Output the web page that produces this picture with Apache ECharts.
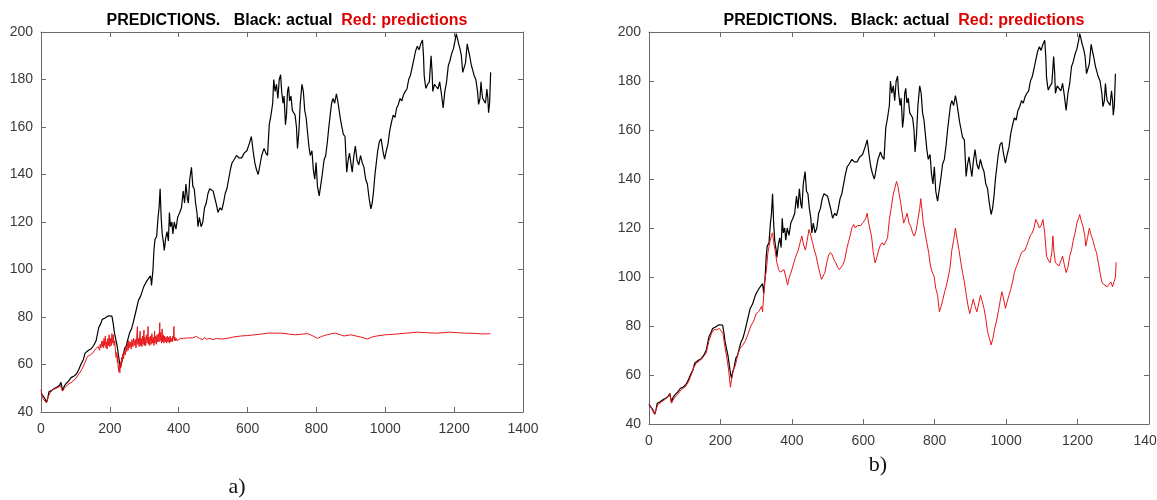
<!DOCTYPE html>
<html>
<head>
<meta charset="utf-8">
<title>PREDICTIONS</title>
<script src="https://cdn.jsdelivr.net/npm/echarts@6/dist/echarts.min.js"></script>
<style>
  html, body { margin: 0; padding: 0; background: #fff; }
  #chart { width: 1157px; height: 500px; }
</style>
</head>
<body>
<div id="chart"></div>
<script>
// Sample index vs. price: actual series (black) and two model predictions (red).
const xTicks = [0, 200, 400, 600, 800, 1000, 1200, 1400];
const yTicks = [40, 60, 80, 100, 120, 140, 160, 180, 200];

const actual = [
  [0,48],[5,47.5],[10,46],[16,44],[20,46],[23,48.5],[30,49],[40,50],[48,50.6],[55,51.5],[58,52.5],[63,49],[68,51],[73,52],[80,53],
  [88,54.6],[95,55],[103,56],[110,58],[118,60.7],[123,62],[128,64.8],[133,65.5],[138,66],[145,66.5],[153,68],[160,70],[168,75.7],
  [173,77],[178,79],[185,79.5],[190,79.7],[196,80.5],[201,81.3],[206,80.4],[210,77],[213,73.6],[218,70],[221,68],[226,62.8],[229,60],
  [231,58.7],[234,61],[238,62.8],[243,66.8],[248,68],[253,71],[258,73.6],[263,75],[268,77.7],[275,82],[283,87],[290,89],[298,92.6],
  [303,94],[308,95.3],[313,96],[318,97.3],[320,95],[321,93.3],[325,99.4],[328,108],[331,112.6],[336,114],[340,122],[343,126],[346,134],
  [349,122],[352,115],[356,111],[358,108],[362,113],[366,116],[370,112],[373,124],[376,118],[380,120],[383,115],[387,120],[392,117],
  [397,122],[403,124],[408,126],[413,133],[417,128],[421,136],[425,130],[428,128],[432,138],[437,143],[441,135],[445,134],[449,128],
  [453,124],[456,118],[460,122],[465,118],[470,120],[475,126],[480,128],[485,132],[490,134],[495,134],[500,133],[505,130],[510,127],
  [514,124],[520,126],[525,125],[530,128],[535,132],[540,134],[545,138],[550,142],[555,145],[560,146],[568,148],[575,147],[583,147],
  [590,149],[598,150],[605,153],[611,156],[616,150],[621,145],[626,142],[631,140],[636,144],[641,148],[648,151],[653,149],[658,148],
  [663,161],[668,165],[673,170],[676,180],[680,175],[684,178],[688,172],[692,180],[696,182],[699,175],[703,170],[706,173],[710,161],
  [713,165],[716,175],[719,177],[722,171],[726,173],[730,167],[734,166],[738,165],[742,160],[745,151],[749,158],[753,170],[758,178],
  [762,175],[766,167],[770,164],[774,158],[778,152],[782,148],[787,150],[791,142],[795,138],[799,145],[803,135],[808,131],[812,135],
  [817,140],[822,146],[827,148],[832,154],[836,160],[840,165],[844,170],[848,172],[853,170],[858,174],[862,171],[866,167],[870,163],
  [874,160],[878,157],[883,156],[888,141],[892,146],[896,149],[900,145],[904,141],[908,147],[913,152],[918,146],[923,144],[928,148],
  [933,145],[938,143],[943,138],[948,136],[953,130],[958,125.5],[962,128],[966,133],[970,140],[974,145],[978,150],[983,154],[988,155],
  [993,150],[998,146.5],[1003,150],[1008,153],[1013,158.6],[1018,162],[1023,165],[1028,164],[1033,168],[1038,169.5],[1043,172],
  [1048,171],[1053,173.6],[1058,175],[1063,176],[1068,180],[1073,181.7],[1078,185],[1083,188.5],[1088,192],[1093,194],[1098,192.5],
  [1103,195],[1108,196.6],[1111,190],[1113,181.7],[1116,178],[1118,176.3],[1123,178],[1128,179],[1133,190],[1136,183],[1138,175],
  [1143,178],[1148,177.6],[1153,176],[1158,179],[1163,174],[1168,168],[1173,175],[1178,179],[1183,185.8],[1188,188],[1193,191],
  [1198,193],[1203,196.6],[1206,199.3],[1210,197],[1213,195],[1217,193],[1221,190],[1225,183],[1229,185],[1233,187],[1238,195],
  [1242,192],[1245,190],[1250,186],[1253,185.8],[1258,181.7],[1263,180],[1268,175],[1271,169.5],[1275,172],[1278,179],[1281,174],
  [1283,172],[1287,171],[1291,170],[1295,176],[1298,172],[1300,166],[1303,170],[1306,183]
];

// Model (a): predictions flatten out around 70-74, noisy band up to ~400.
const predA = [
  [0,49.5],[3,47],[7,45.3],[16,44],[20,46],[26,48],[35,49.5],[45,50],[57,51],[62,48.8],[68,50],[78,51.6],[88,52.5],[99,53.7],
  [110,56],[119,58],[128,61],[135,63.4],[143,64],[150,64.8],[158,66.5],[166,67.6],[170,66],[172,68.5],[174,67],[176,69.7],[178,67.5],
  [180,70],[182,67],[183,71],[185,68],[187,72],[189,67],[190,69.5],[192,66.5],[194,71],[196,68],[198,72.5],[200,67.5],[202,71],
  [204,68],[206,73],[208,69],[210,72.5],[212,68],[214,70],[216,66.2],[218,63],[220,65],[222,60.6],[223,63.5],[224,59],[226,57],
  [227,60],[229,56.5],[231,61],[232,59],[234,63],[236,61],[238,64.5],[240,62.5],[242,66],[245,64],[247,67.5],[249,65.5],[251,69],
  [253,66],[255,70],[257,67],[259,69.5],[262,66.5],[264,70.5],[267,67.5],[269,71],[272,68],[274,70.5],[276,67],[278,71.5],[280,76],
  [281,68.5],[283,71],[285,67.5],[287,72],[288,74],[289,68],[291,71],[293,67.5],[295,72],[297,68.5],[299,74.5],[300,68],[302,71.5],
  [304,68],[306,72.5],[308,69],[310,72],[311,76],[312,68.5],[314,71.5],[316,68],[318,72],[320,68.5],[322,73],[324,69],[326,71.5],
  [328,68],[330,74],[331,69],[333,72],[335,68.5],[337,72.5],[339,69.5],[341,73],[343,69.5],[345,77.6],[346,70],[348,73.5],[350,69],
  [352,75],[353,69.5],[355,72.5],[357,69],[359,72],[361,69.5],[363,71.5],[365,69],[367,72],[369,69.5],[371,71.5],[373,69],[375,72],
  [377,69.5],[379,71],[381,69.5],[383,72],[385,71],[386,76],[387,70],[389,71.5],[391,70],[393,71],[395,70],[399,70.4],[405,71],
  [410,70.5],[415,71],[420,70.6],[425,71.2],[430,70.8],[440,71.2],[451,71.8],[460,71],[470,70.4],[475,71.5],[480,70.6],[490,71],
  [500,70.5],[510,71],[523,70.7],[540,71],[560,71.6],[580,72],[600,72.2],[620,72.5],[640,72.8],[658,73.2],[680,73.2],[700,73.2],
  [720,72.8],[740,72.5],[760,72.8],[775,73],[790,72],[803,71],[815,71.8],[830,72.5],[845,73],[855,73.2],[870,72.5],[880,72],
  [900,72.5],[915,72],[930,71.5],[948,70.7],[960,71.5],[975,72],[1000,72.5],[1030,72.8],[1060,73.2],[1093,73.6],[1120,73.4],
  [1150,73.2],[1187,73.6],[1210,73.4],[1230,73.2],[1260,73.1],[1280,72.9],[1300,72.9],[1305,73]
];

// Model (b): predictions track the trend but stay below the actual values.
const predB = [
  [0,48],[5,47],[10,45.5],[16,44],[20,46],[25,48],[35,49],[45,50],[55,51.5],[58,52.5],[63,48.5],[70,50.5],[80,52],[90,54],[100,55],
  [110,57],[118,60],[125,63],[133,65],[140,65.5],[150,67],[160,69],[168,74],[175,77],[182,78.5],[190,78.5],[197,79],[202,79.5],
  [207,77],[212,72],[218,67],[223,62],[228,55],[231,58],[236,62],[242,64],[248,68],[255,71],[262,72],[270,74],[278,77],[285,80],
  [293,82],[300,85],[308,86],[315,88],[318,85.8],[322,94],[325,100],[328,101.8],[333,110],[338,114],[343,117],[346,118],[350,113],
  [353,111],[358,106],[363,103],[368,102],[373,101.8],[378,103],[383,100],[388,96.7],[393,100],[398,102],[403,104.5],[410,108],
  [418,111],[423,114],[428,116.7],[433,113],[438,111],[443,115],[448,119.4],[453,117],[458,114],[463,111],[468,108.5],[473,105],
  [478,101.8],[483,99],[488,98.7],[493,102],[498,106],[503,109],[508,110],[513,109],[518,107],[523,105.8],[528,104],[533,103],
  [538,104],[543,105],[548,107],[553,111],[558,114],[563,116.7],[568,120],[573,121.4],[578,120],[583,121],[588,120.7],[593,121],
  [598,122],[603,123],[607,124],[611,126],[615,122],[618,120],[623,116.7],[628,110],[633,105.8],[638,108],[643,111],[648,113],
  [653,114],[658,113],[663,112.6],[668,116],[673,123.5],[678,128],[683,133],[688,136],[693,139],[697,137],[700,134.3],[705,130],
  [709,126],[713,122],[718,124],[723,126],[728,122],[733,120.7],[738,118],[743,116.7],[748,119],[753,123.5],[758,128],[761,132],
  [764,128],[768,122],[773,118],[778,114],[783,110],[788,104.5],[793,102],[798,100.4],[803,95.3],[808,92.6],[813,85.8],[818,88],
  [823,91],[828,94],[833,96.7],[838,100],[843,104],[848,111],[853,115],[858,120],[862,116],[868,111],[873,106],[878,101.8],[883,98],
  [888,93],[893,88.5],[898,85],[903,88],[908,91],[913,88],[918,85.8],[923,89],[928,92.6],[933,90],[938,87.2],[943,83],[948,77.7],
  [953,75],[958,72.3],[963,75],[968,79],[973,82],[978,85.8],[983,90],[988,94],[993,91],[998,87.2],[1003,90],[1008,92.6],[1013,95],
  [1018,98],[1023,101.8],[1028,104],[1033,105.8],[1038,108],[1043,110],[1048,110],[1053,111],[1058,113],[1063,115],[1068,117],
  [1073,118],[1078,120],[1083,123.5],[1088,122],[1093,120],[1098,121],[1103,123.5],[1108,118],[1113,108.5],[1118,107],[1123,105.8],
  [1128,110],[1131,116.7],[1134,110],[1138,105.8],[1143,105],[1148,104.5],[1153,105],[1158,108.5],[1163,105],[1168,101.8],[1173,104],
  [1178,108.5],[1183,111],[1188,115],[1193,118],[1198,122],[1203,124],[1206,125.5],[1210,123],[1215,120.7],[1220,117],[1223,112.6],
  [1228,116],[1233,120],[1238,117],[1243,115],[1248,112],[1253,110],[1258,106],[1263,101.8],[1268,98],[1273,97],[1278,96.7],
  [1283,96],[1288,95.3],[1293,98],[1298,96],[1303,95.3],[1306,100],[1308,106]
];

const titleMain = 'PREDICTIONS.   Black: actual  ';
const titleRed = 'Red: predictions';
const panelTags = ['a)', 'b)'];

const AXIS_COLOR = '#6a6a6a';
const LABEL_COLOR = '#3a3a3a';
const FONT = '"Liberation Sans", Arial, Helvetica, sans-serif';
const X_STEP = xTicks[1] - xTicks[0];
const Y_STEP = yTicks[1] - yTicks[0];

// Two MATLAB-style boxed panels: [left, top, width, height]
const panels = [
  { box: [41, 32, 482, 380], pred: predA, tagPos: [237, 487] },
  { box: [649, 32, 500, 392], pred: predB, tagPos: [878, 465] }
];

const plain = v => String(v);

function makeX(grid, pos) {
  return {
    type: 'value', gridIndex: grid, position: pos,
    min: xTicks[0], max: xTicks[xTicks.length - 1], interval: X_STEP,
    axisLine: { show: true, onZero: false, lineStyle: { color: AXIS_COLOR, width: 1 } },
    axisTick: { show: true, inside: true, length: 5, lineStyle: { color: AXIS_COLOR } },
    axisLabel: pos === 'bottom'
      ? { show: true, color: LABEL_COLOR, fontSize: 14, fontFamily: FONT, margin: 10, formatter: plain,
          showMinLabel: true, showMaxLabel: true, hideOverlap: false }
      : { show: false },
    splitLine: { show: false }
  };
}
function makeY(grid, pos) {
  return {
    type: 'value', gridIndex: grid, position: pos,
    min: yTicks[0], max: yTicks[yTicks.length - 1], interval: Y_STEP,
    axisLine: { show: true, onZero: false, lineStyle: { color: AXIS_COLOR, width: 1 } },
    axisTick: { show: true, inside: true, length: 5, lineStyle: { color: AXIS_COLOR } },
    axisLabel: pos === 'left'
      ? { show: true, color: LABEL_COLOR, fontSize: 14, fontFamily: FONT, margin: 8, formatter: plain }
      : { show: false },
    splitLine: { show: false }
  };
}

const grids = [], xAxes = [], yAxes = [], series = [], titles = [], graphics = [];
panels.forEach((p, i) => {
  const [l, t, w, h] = p.box;
  grids.push({ left: l, top: t, width: w, height: h, containLabel: false, outerBoundsMode: 'none' });
  xAxes.push(makeX(i, 'bottom'), makeX(i, 'top'));
  yAxes.push(makeY(i, 'left'), makeY(i, 'right'));
  series.push({
    type: 'line', xAxisIndex: 2 * i, yAxisIndex: 2 * i, data: actual,
    showSymbol: false, symbol: 'none', lineStyle: { color: '#000', width: 1.2 }, z: 2
  });
  series.push({
    type: 'line', xAxisIndex: 2 * i, yAxisIndex: 2 * i, data: p.pred,
    showSymbol: false, symbol: 'none', lineStyle: { color: '#e8161b', width: 1 }, z: 3
  });
  titles.push({
    text: '{k|' + titleMain + '}{r|' + titleRed + '}',
    left: l + w / 2, top: 8, textAlign: 'center',
    textStyle: {
      rich: {
        k: { color: '#000', fontWeight: 'bold', fontSize: 16, fontFamily: FONT },
        r: { color: '#e00000', fontWeight: 'bold', fontSize: 16, fontFamily: FONT }
      }
    }
  });
  graphics.push({
    type: 'text', x: p.tagPos[0], y: p.tagPos[1],
    style: {
      text: panelTags[i], fill: '#111', font: '22px "Liberation Serif", "DejaVu Serif", serif',
      textAlign: 'center', textVerticalAlign: 'middle'
    }
  });
});

const chart = echarts.init(document.getElementById('chart'), null, { renderer: 'canvas' });
chart.setOption({
  animation: false,
  backgroundColor: '#fff',
  title: titles,
  grid: grids,
  xAxis: xAxes,
  yAxis: yAxes,
  series: series,
  graphic: graphics
});
</script>
</body>
</html>
